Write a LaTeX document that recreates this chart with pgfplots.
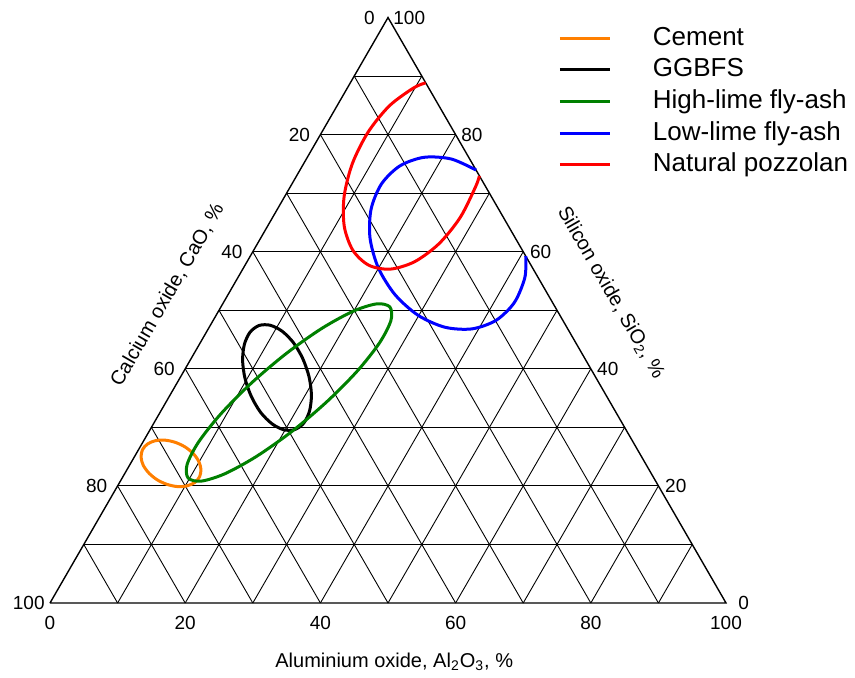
\documentclass[border=0pt]{standalone}
\usepackage{fontspec}
\setmainfont{Liberation Sans}
\usepackage{pgfplots}
\pgfplotsset{compat=1.18}
\definecolor{cemc}{RGB}{255,127,0}
\definecolor{hlc}{RGB}{0,128,0}

\begin{document}
\begin{tikzpicture}
\begin{axis}[
  scale only axis, width=427.5pt, height=337.5pt,
  xmin=-7.396, xmax=119.08, ymin=-10.65, ymax=89.20,
  axis lines=none, clip=false,
  legend cell align=left,
  legend style={draw=none, fill=none, inner sep=0pt, at={(axis cs:75.15,85.3)}, anchor=north west,
    font=\fontsize{13}{15}\selectfont, row sep=4.3pt,
    nodes={inner sep=0pt, text height=9.3pt, text depth=2.2pt}},
  legend image code/.code={\draw[#1] (0pt,0pt) -- (25pt,0pt); \path[draw=none] (25pt,0pt) -- (46.5pt,0pt);},
  gridl/.style={forget plot, black, line width=0.45pt},
  curve/.style={line width=1.5pt},
]
\path (rel axis cs:0,0) rectangle (rel axis cs:1,1);

% grid: constant SiO2
\addplot[gridl] coordinates {(5,8.660) (95,8.660)};
\addplot[gridl] coordinates {(10,17.321) (90,17.321)};
\addplot[gridl] coordinates {(15,25.981) (85,25.981)};
\addplot[gridl] coordinates {(20,34.641) (80,34.641)};
\addplot[gridl] coordinates {(25,43.301) (75,43.301)};
\addplot[gridl] coordinates {(30,51.962) (70,51.962)};
\addplot[gridl] coordinates {(35,60.622) (65,60.622)};
\addplot[gridl] coordinates {(40,69.282) (60,69.282)};
\addplot[gridl] coordinates {(45,77.942) (55,77.942)};
% grid: constant Al2O3
\addplot[gridl] coordinates {(10,0) (55,77.942)};
\addplot[gridl] coordinates {(20,0) (60,69.282)};
\addplot[gridl] coordinates {(30,0) (65,60.622)};
\addplot[gridl] coordinates {(40,0) (70,51.962)};
\addplot[gridl] coordinates {(50,0) (75,43.301)};
\addplot[gridl] coordinates {(60,0) (80,34.641)};
\addplot[gridl] coordinates {(70,0) (85,25.981)};
\addplot[gridl] coordinates {(80,0) (90,17.321)};
\addplot[gridl] coordinates {(90,0) (95,8.660)};
% grid: constant CaO
\addplot[gridl] coordinates {(10,0) (5,8.660)};
\addplot[gridl] coordinates {(20,0) (10,17.321)};
\addplot[gridl] coordinates {(30,0) (15,25.981)};
\addplot[gridl] coordinates {(40,0) (20,34.641)};
\addplot[gridl] coordinates {(50,0) (25,43.301)};
\addplot[gridl] coordinates {(60,0) (30,51.962)};
\addplot[gridl] coordinates {(70,0) (35,60.622)};
\addplot[gridl] coordinates {(80,0) (40,69.282)};
\addplot[gridl] coordinates {(90,0) (45,77.942)};
% border
\addplot[forget plot, black, line width=0.7pt] coordinates {(0,0) (100,0) (50,86.603) (0,0)};

% Cement
\addplot[cemc, curve, smooth cycle] coordinates {
(22.13,18.68) (22.33,19.78) (22.00,20.96) (21.17,22.13) (19.94,23.11) (18.46,23.79)
(16.92,24.10) (15.50,23.99) (14.38,23.49) (13.67,22.65) (13.47,21.55) (13.80,20.36)
(14.65,19.20) (15.86,18.22) (17.34,17.54) (18.88,17.22) (20.30,17.34) (21.43,17.84)};
\addlegendentry{Cement}

% GGBFS
\addplot[black, curve, smooth cycle] coordinates {
(36.24,25.67) (37.56,26.64) (38.40,28.43) (38.67,30.81) (38.31,33.51) (37.38,36.17)
(36.01,38.51) (34.33,40.21) (32.56,41.09) (30.92,41.05) (29.60,40.07) (28.76,38.28)
(28.49,35.90) (28.85,33.21) (29.78,30.55) (31.15,28.21) (32.84,26.51) (34.60,25.62)};
\addlegendentry{GGBFS}

% High-lime fly-ash
\addplot[hlc, curve, smooth cycle] coordinates {
(50.28,43.79) (50.43,41.79) (48.76,38.51) (45.47,34.33) (40.96,29.78) (35.78,25.38)
(30.55,21.69) (25.89,19.13) (22.38,18.03) (20.43,18.49) (20.28,20.49) (21.95,23.77)
(25.24,27.94) (29.75,32.50) (34.93,36.89) (40.16,40.59) (44.82,43.15) (48.33,44.25)};
\addlegendentry{High-lime fly-ash}

% Low-lime fly-ash
\addplot[blue, curve, smooth] coordinates {
(63.03,64.04) (59.35,65.68) (55.34,65.93) (51.76,64.66) (49.04,62.00) (47.50,58.28)
(47.34,53.98) (48.57,49.57) (51.04,45.61) (54.45,42.56) (58.40,40.80) (62.41,40.55)
(65.99,41.82) (68.71,44.48) (70.25,48.18) (70.37,51.32)};
\addlegendentry{Low-lime fly-ash}

% Natural pozzolan
\addplot[red, curve, smooth] coordinates {
(55.57,76.94) (53.80,76.20) (50.21,73.55) (47.06,69.66) (44.73,65.01) (43.51,60.16)
(43.53,55.70) (44.81,52.16) (47.17,49.96) (50.34,49.39) (53.94,50.49) (57.53,53.14)
(60.68,57.03) (63.00,61.68) (63.51,63.19)};
\addlegendentry{Natural pozzolan}

% tick labels
\begin{scope}[every node/.style={inner sep=0pt, font=\fontsize{9.5}{11}\selectfont}]
% bottom: Al2O3
\node[yshift=-10pt] at (axis cs:0,0) {0};
\node[yshift=-10pt] at (axis cs:20,0) {20};
\node[yshift=-10pt] at (axis cs:40,0) {40};
\node[yshift=-10pt] at (axis cs:60,0) {60};
\node[yshift=-10pt] at (axis cs:80,0) {80};
\node[yshift=-10pt] at (axis cs:100,0) {100};
% left: CaO
\node[anchor=east, xshift=-2.5pt] at (axis cs:0,0) {100};
\node[anchor=east, xshift=-5pt] at (axis cs:10,17.321) {80};
\node[anchor=east, xshift=-5pt] at (axis cs:20,34.641) {60};
\node[anchor=east, xshift=-5pt] at (axis cs:30,51.962) {40};
\node[anchor=east, xshift=-5pt] at (axis cs:40,69.282) {20};
\node[anchor=east, xshift=-6.5pt] at (axis cs:50,86.603) {0};
% right: SiO2
\node[anchor=west, xshift=6pt] at (axis cs:100,0) {0};
\node[anchor=west, xshift=3.2pt] at (axis cs:90,17.321) {20};
\node[anchor=west, xshift=3pt] at (axis cs:80,34.641) {40};
\node[anchor=west, xshift=3.2pt] at (axis cs:70,51.962) {60};
\node[anchor=west, xshift=2.7pt] at (axis cs:60,69.282) {80};
\node[anchor=west, xshift=2.5pt] at (axis cs:50,86.603) {100};
\end{scope}

% axis titles
\node[rotate=60, font=\fontsize{10}{12}\selectfont] at (axis cs:17.38,45.56) {Calcium oxide, CaO, \%};
\node[rotate=-60, font=\fontsize{10}{12}\selectfont] at (axis cs:82.96,45.93) {Silicon oxide, SiO\textsubscript{2}, \%};
\node[anchor=base, font=\fontsize{10}{12}\selectfont] at (axis cs:50.92,-9.57) {Aluminium oxide, Al\textsubscript{2}O\textsubscript{3}, \%};
\end{axis}
\end{tikzpicture}
\end{document}
